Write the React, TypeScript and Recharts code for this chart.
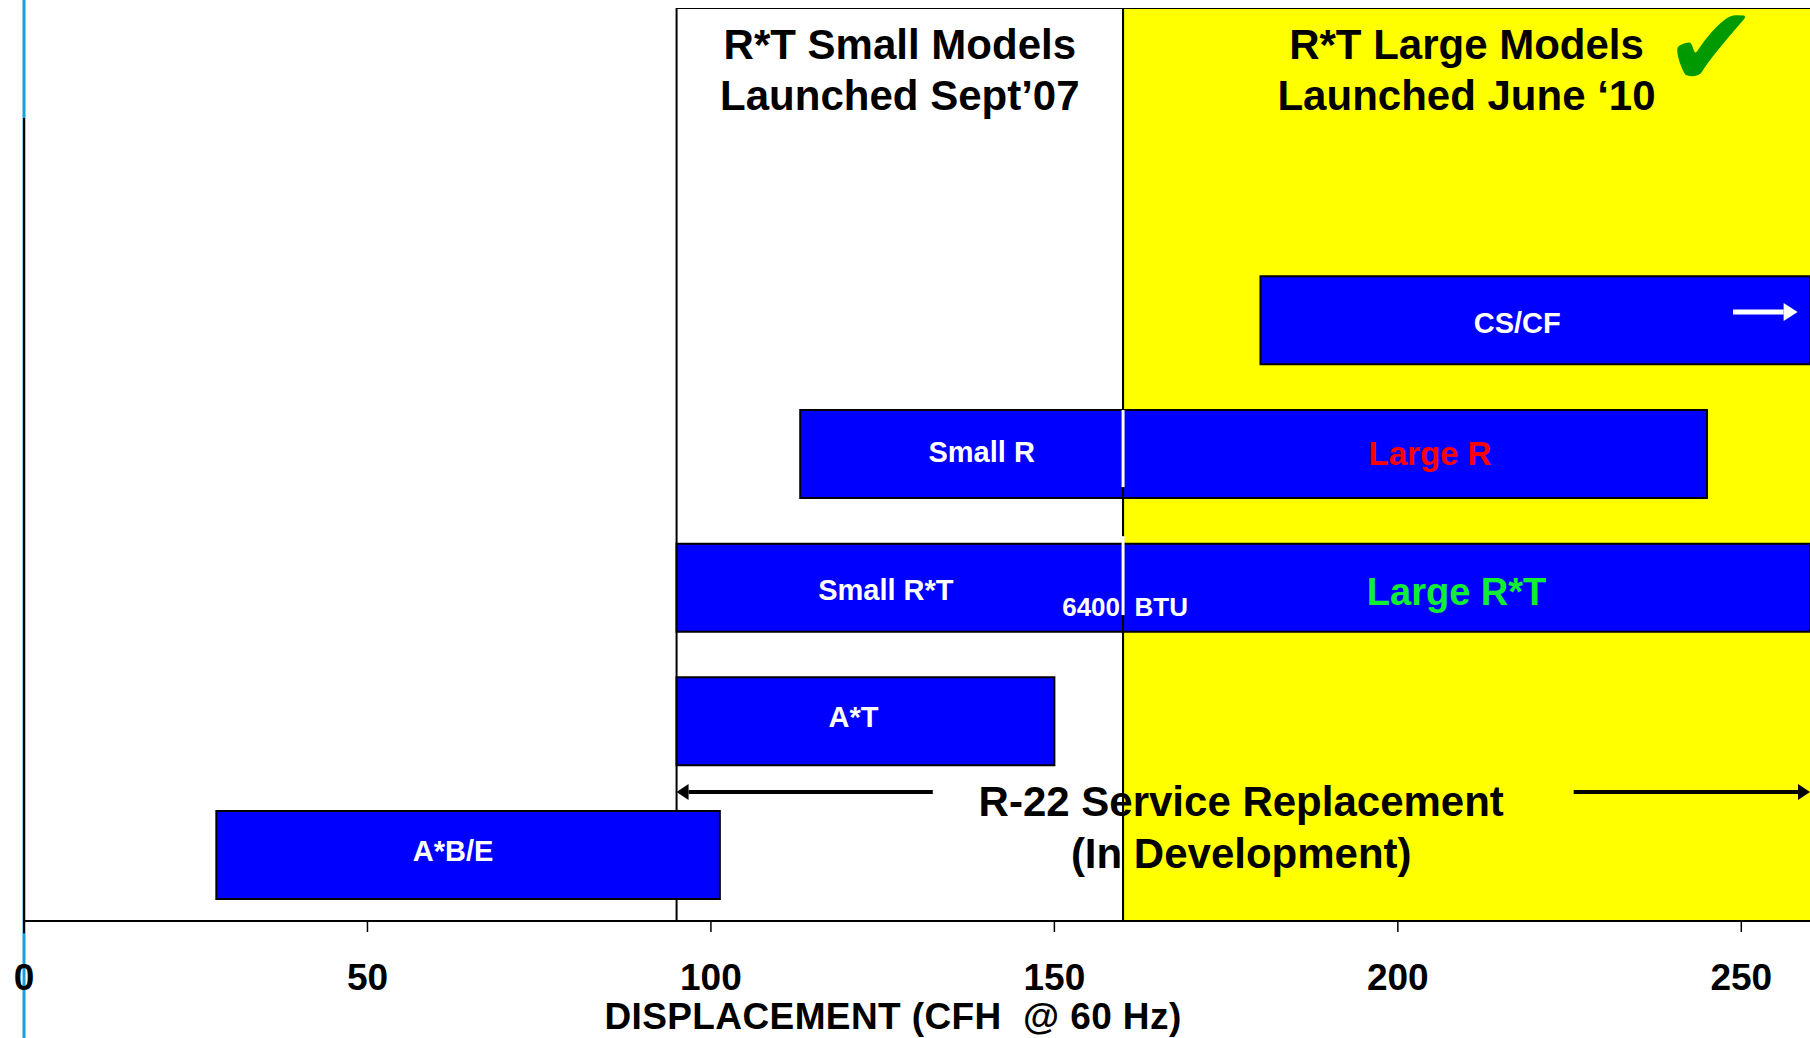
import React from "react";
import {
  BarChart,
  Bar,
  XAxis,
  YAxis,
  ReferenceArea,
  ReferenceLine,
  ReferenceDot,
  LabelList,
} from "recharts";

const FONT = '"Liberation Sans", Arial, Helvetica, sans-serif';

// product rows, listed top to bottom
const products = ["CS/CF", "Small R", "Small R*T", "A*T", "A*B/E"];
const rowPos = [1, 2, 3, 4, 5];
const rangeStart = [180, 113, 95, 95, 28];
const rangeSplit: (number | null)[] = [null, 160, 160, null, null];
const rangeEnd = [262, 245, 262, 150, 101.3];
const leftLabels = ["CS/CF", "Small R", "Small R*T", "A*T", "A*B/E"];
const rightLabels = ["", "Large R", "Large R*T", "", ""];

const xTicks = [0, 50, 100, 150, 200, 250];
const xDomain = [0, 260];
const yDomain = [-1.334, 5.494];

// launch zones (CFH)
const smallZone = [95, 160];
const largeZone = [160, 262];
const smallTitle = ["R*T Small Models", "Launched Sept\u201907"];
const largeTitle = ["R*T Large Models", "Launched June \u201810"];

const btuValue = 160;
const btuText = "6400  BTU";
const serviceText = ["R-22 Service Replacement", "(In Development)"];
const serviceLeftArrow = [132.3, 95];
const serviceRightArrow = [225.6, 260];
const axisTitle = "DISPLACEMENT (CFH  @ 60 Hz)";

const data = products.map((name, i) => {
  const split = rangeSplit[i];
  const stop = split ?? rangeEnd[i];
  return {
    name,
    row: rowPos[i],
    base: rangeStart[i],
    left: stop - rangeStart[i],
    right: split != null ? rangeEnd[i] - split : 0,
    leftLabel: leftLabels[i],
    rightLabel: rightLabels[i],
  };
});

// label look per bar text
const labelStyle: Record<string, { fill: string; size: number; dx: number; dy: number }> = {
  "CS/CF": { fill: "#fff", size: 29, dx: -18, dy: 2 },
  "Small R": { fill: "#fff", size: 29, dx: 20, dy: -2 },
  "Large R": { fill: "#ff0000", size: 33, dx: 15, dy: -1 },
  "Small R*T": { fill: "#fff", size: 29, dx: -14, dy: 2 },
  "Large R*T": { fill: "#11ee33", size: 38, dx: -10, dy: 4 },
  "A*T": { fill: "#fff", size: 29, dx: -12, dy: -5 },
  "A*B/E": { fill: "#fff", size: 29, dx: -15, dy: -5 },
};

const renderBarLabel = (props: any) => {
  const { x, y, width, height, value } = props;
  if (!value) return null;
  const s = labelStyle[value] ?? { fill: "#fff", size: 29, dx: 0, dy: 0 };
  return (
    <text
      x={x + width / 2 + s.dx}
      y={y + height / 2 + s.size * 0.36 + s.dy}
      textAnchor="middle"
      fill={s.fill}
      fontSize={s.size}
      fontWeight={700}
      fontFamily={FONT}
    >
      {value}
    </text>
  );
};

const Arrow = (props: any) => {
  const { x1, y1, x2, y2, stroke, width = 4, head = 12, half = 8 } = props;
  const dir = Math.sign(x2 - x1) || 1;
  return (
    <g>
      <line x1={x1} y1={y1} x2={x2 - dir * head} y2={y2} stroke={stroke} strokeWidth={width} />
      <polygon
        points={`${x2},${y2} ${x2 - dir * head},${y2 - half} ${x2 - dir * head},${y2 + half}`}
        fill={stroke}
      />
    </g>
  );
};

const TextBlock = ({ cx, cy, lines, size, lineGap }: any) => (
  <text
    x={cx}
    y={cy}
    textAnchor="middle"
    fontSize={size}
    fontWeight={700}
    fontFamily={FONT}
    fill="#000"
  >
    {lines.map((l: string, i: number) => (
      <tspan key={i} x={cx} dy={i === 0 ? 0 : lineGap}>
        {l}
      </tspan>
    ))}
  </text>
);

const XTick = (props: any) => {
  const { x, y, payload } = props;
  return (
    <text
      x={x}
      y={y + 58}
      textAnchor="middle"
      fontSize={37}
      fontWeight={700}
      fontFamily={FONT}
      fill="#000"
    >
      {payload.value}
    </text>
  );
};

const AxisTitle = (props: any) => {
  const { viewBox } = props;
  if (!viewBox) return null;
  return (
    <text
      x={viewBox.x + viewBox.width / 2 - 24}
      y={viewBox.y + 108}
      textAnchor="middle"
      fontSize={37}
      fontWeight={700}
      fontFamily={FONT}
      letterSpacing={0.4}
      fill="#000"
      style={{ whiteSpace: "pre" }}
    >
      {axisTitle}
    </text>
  );
};

export default function App() {
  return (
    <div style={{ position: "absolute", left: 0, top: 0, background: "#fff" }}>
      <BarChart
        width={1810}
        height={1038}
        data={data}
        layout="vertical"
        barSize={88}
        margin={{ top: 8, right: 0, left: 24, bottom: 0 }}
      >
        <XAxis
          type="number"
          domain={xDomain}
          ticks={xTicks}
          allowDataOverflow
          height={117}
          axisLine={{ stroke: "#000", strokeWidth: 2 }}
          tickLine={{ stroke: "#000", strokeWidth: 1.5 }}
          tickSize={11}
          tickMargin={0}
          tick={<XTick />}
          label={<AxisTitle />}
        />
        <YAxis type="number" dataKey="row" domain={yDomain} ticks={rowPos} allowDataOverflow hide />

        <ReferenceArea
          x1={smallZone[0]}
          x2={smallZone[1]}
          fill="#ffffff"
          fillOpacity={1}
          stroke="#000"
          strokeWidth={2}
          ifOverflow="hidden"
        />
        <ReferenceArea
          x1={largeZone[0]}
          x2={largeZone[1]}
          fill="#ffff00"
          fillOpacity={1}
          stroke="#000"
          strokeWidth={2}
          ifOverflow="hidden"
        />

        <ReferenceLine
          segment={[{ x: 0, y: -1.393 }, { x: 0, y: 6.37 }]}
          stroke="#1a9fd8"
          strokeWidth={3}
          ifOverflow="visible"
        />
        <ReferenceLine
          segment={[{ x: 0, y: -0.511 }, { x: 0, y: 5.585 }]}
          stroke="#000"
          strokeWidth={2}
          ifOverflow="visible"
        />

        <Bar dataKey="base" stackId="s" fill="transparent" isAnimationActive={false} />
        <Bar
          dataKey="left"
          stackId="s"
          fill="#0000ff"
          stroke="#000"
          strokeWidth={2}
          isAnimationActive={false}
        >
          <LabelList dataKey="leftLabel" content={renderBarLabel} />
        </Bar>
        <Bar
          dataKey="right"
          stackId="s"
          fill="#0000ff"
          stroke="#000"
          strokeWidth={2}
          isAnimationActive={false}
        >
          <LabelList dataKey="rightLabel" content={renderBarLabel} />
        </Bar>

        {/* white split marks at the 6400 BTU boundary */}
        <ReferenceLine
          segment={[{ x: btuValue, y: 1.673 }, { x: btuValue, y: 2.249 }]}
          stroke="#fff"
          strokeWidth={3}
        />
        <ReferenceLine
          segment={[{ x: btuValue, y: 2.616 }, { x: btuValue, y: 3.206 }]}
          stroke="#fff"
          strokeWidth={3}
        />

        {/* CS/CF continues beyond the axis */}
        <ReferenceLine
          segment={[{ x: 248.8, y: 0.94 }, { x: 258.2, y: 0.94 }]}
          stroke="#fff"
          ifOverflow="visible"
          shape={(p: any) => <Arrow {...p} stroke="#fff" width={5} head={14} half={9} />}
        />

        {/* R-22 service replacement span */}
        <ReferenceLine
          segment={[{ x: serviceLeftArrow[0], y: 4.53 }, { x: serviceLeftArrow[1], y: 4.53 }]}
          stroke="#000"
          ifOverflow="visible"
          shape={(p: any) => <Arrow {...p} stroke="#000" />}
        />
        <ReferenceLine
          segment={[{ x: serviceRightArrow[0], y: 4.53 }, { x: serviceRightArrow[1], y: 4.53 }]}
          stroke="#000"
          ifOverflow="visible"
          shape={(p: any) => <Arrow {...p} stroke="#000" />}
        />

        <ReferenceDot
          x={btuValue}
          y={3.21}
          r={1}
          ifOverflow="visible"
          shape={(p: any) => (
            <text
              x={p.cx + 2}
              y={p.cy}
              textAnchor="middle"
              fontSize={26}
              fontWeight={700}
              fontFamily={FONT}
              fill="#fff"
              style={{ whiteSpace: "pre" }}
            >
              {btuText}
            </text>
          )}
        />
        <ReferenceDot
          x={(smallZone[0] + smallZone[1]) / 2}
          y={-0.952}
          r={1}
          ifOverflow="visible"
          shape={(p: any) => <TextBlock cx={p.cx} cy={p.cy} lines={smallTitle} size={42} lineGap={51} />}
        />
        <ReferenceDot
          x={210}
          y={-0.952}
          r={1}
          ifOverflow="visible"
          shape={(p: any) => <TextBlock cx={p.cx} cy={p.cy} lines={largeTitle} size={42} lineGap={51} />}
        />
        <ReferenceDot
          x={245.6}
          y={-1.057}
          r={1}
          ifOverflow="visible"
          shape={(p: any) => (
            <text
              x={p.cx}
              y={p.cy + 41}
              textAnchor="middle"
              fontSize={112}
              fontFamily='"DejaVu Sans", sans-serif'
              fill="#009900"
            >
              {"\u2714"}
            </text>
          )}
        />
        <ReferenceDot
          x={177.2}
          y={4.708}
          r={1}
          ifOverflow="visible"
          shape={(p: any) => <TextBlock cx={p.cx} cy={p.cy} lines={serviceText} size={42} lineGap={52} />}
        />
      </BarChart>
    </div>
  );
}
